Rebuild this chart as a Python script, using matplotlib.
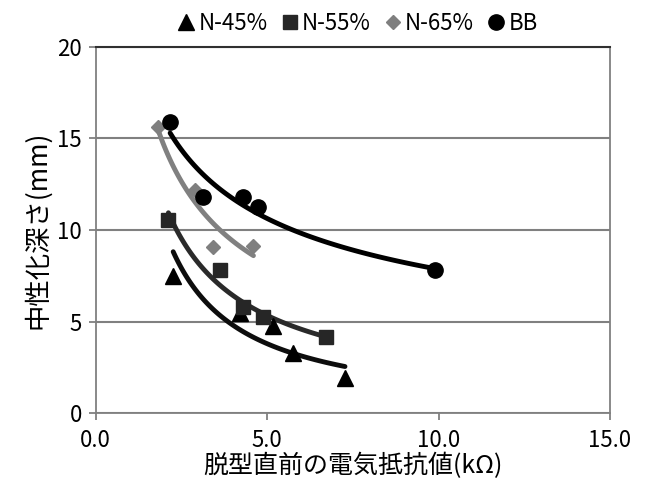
import numpy as np
import matplotlib
matplotlib.use('Agg')
import matplotlib.pyplot as plt

plt.rcParams['font.family'] = ['Noto Sans CJK JP', 'DejaVu Sans']

# 脱型直前の電気抵抗値(kΩ) と 中性化深さ(mm)
n45_x = [2.26, 4.21, 5.16, 5.76, 7.27]
n45_y = [7.49, 5.45, 4.76, 3.31, 1.91]
n55_x = [2.12, 3.62, 4.30, 4.89, 6.73]
n55_y = [10.55, 7.82, 5.82, 5.27, 4.14]
n65_x = [1.83, 2.90, 3.43, 4.60]
n65_y = [15.6, 12.2, 9.09, 9.13]
bb_x = [2.17, 3.14, 4.30, 4.74, 9.89]
bb_y = [15.9, 11.78, 11.78, 11.24, 7.82]

labels = ['N-45%', 'N-55%', 'N-65%', 'BB']
markers = ['^', 's', 'D', 'o']
msizes = [11, 10, 7.5, 11]
mcolors = ['#000000', '#262626', '#7f7f7f', '#000000']
lcolors = ['#0d0d0d', '#2a2a2a', '#808080', '#000000']

xs = [n45_x, n55_x, n65_x, bb_x]
ys = [n45_y, n55_y, n65_y, bb_y]

fig = plt.figure(figsize=(6.48, 4.93), dpi=100)
ax = fig.add_axes([0.1477, 0.1617, 0.9414 - 0.1477, 0.9053 - 0.1617])

for x, y, lab, m, ms, mc, lc in zip(xs, ys, labels, markers, msizes, mcolors, lcolors):
    x = np.array(x)
    y = np.array(y)
    ax.plot(x, y, linestyle='none', marker=m, markersize=ms, color=mc,
            label=lab, zorder=3)
    # power trendline y = a * x^b
    b, loga = np.polyfit(np.log(x), np.log(y), 1)
    xf = np.linspace(x.min(), x.max(), 100)
    ax.plot(xf, np.exp(loga) * xf ** b, color=lc, linewidth=3.5,
            solid_capstyle='round', zorder=2)

ax.set_xlim(0, 15)
ax.set_ylim(0, 20)
ax.set_xticks([0, 5, 10, 15])
ax.set_xticklabels(['0.0', '5.0', '10.0', '15.0'])
ax.set_yticks([0, 5, 10, 15, 20])
ax.grid(axis='y', color='#808080', linewidth=1.5, zorder=0)
ax.set_axisbelow(True)
for s in ['left', 'bottom', 'right']:
    ax.spines[s].set_color('#808080')
    ax.spines[s].set_linewidth(1.3)
ax.spines['top'].set_color('#303030')
ax.spines['top'].set_linewidth(1.5)
ax.tick_params(axis='both', labelsize=16, color='#808080', width=1.3, length=5)
ax.tick_params(axis='x', pad=6)
ax.tick_params(axis='y', pad=5)

ax.set_xlabel('脱型直前の電気抵抗値(kΩ)', fontsize=18, labelpad=1)
ax.set_ylabel('中性化深さ(mm)', fontsize=19, labelpad=4)

fig.legend(loc='upper center', bbox_to_anchor=(0.55, 1.0), ncol=4,
           frameon=False, fontsize=16, handletextpad=0.05, columnspacing=0.5,
           handlelength=1.0, borderaxespad=0.15)

fig.savefig('out.png', dpi=100)
